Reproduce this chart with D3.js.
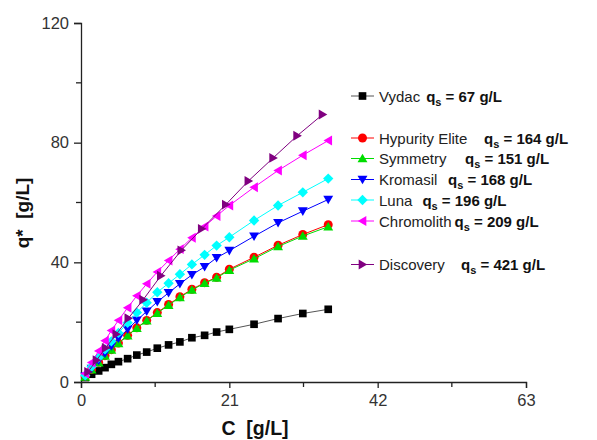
<!DOCTYPE html>
<html><head><meta charset="utf-8">
<script src="https://cdn.jsdelivr.net/npm/d3@7/dist/d3.min.js"></script>
<style>
body{margin:0;background:#fff;}
svg{display:block;font-family:"Liberation Sans",Arial,Helvetica,sans-serif;}
</style></head>
<body><svg id="c" width="597" height="440"></svg>
<script>
// ---- data ----
const xTicks = [0, 21, 42, 63];
const xMinor = [10.5, 31.5, 52.5];
const yTicks = [0, 40, 80, 120];
const yMinor = [20, 60, 100];

const cGrid = [0.6, 1.5, 2.5, 3.4, 4.3, 5.3, 6.6, 7.9, 9.3, 10.8, 12.4, 14.0, 15.7, 17.5, 19.2, 21.0, 24.5, 27.9, 31.4, 35.0];
const vydac      = [1.5, 2.6, 3.7, 4.8, 5.9, 6.8, 7.8, 9.0, 10.0, 11.3, 12.4, 13.4, 14.8, 15.6, 16.7, 17.6, 19.3, 21.2, 22.9, 24.3];
const hypurity   = [1.8, 4.2, 6.6, 8.8, 10.8, 13.0, 15.6, 18.1, 20.6, 23.2, 25.9, 28.5, 31.0, 33.2, 35.0, 37.7, 41.7, 45.7, 49.3, 52.6];
const symmetry   = [1.7, 4.1, 6.5, 8.7, 10.7, 12.9, 15.5, 18.0, 20.5, 23.0, 25.7, 28.3, 30.8, 33.0, 34.8, 37.4, 41.2, 45.3, 48.8, 51.9];
const kromasil   = [1.9, 4.5, 7.2, 9.6, 12.0, 14.6, 17.6, 20.6, 23.6, 26.8, 29.8, 32.8, 35.8, 38.5, 41.5, 43.9, 48.7, 53.2, 57.1, 61.0];
const luna       = [2.2, 5.1, 8.2, 10.9, 13.6, 16.4, 19.8, 23.2, 26.5, 30.0, 33.0, 36.0, 39.3, 42.5, 45.6, 48.4, 54.0, 59.0, 63.4, 68.0];
const chromolith = [2.8, 6.5, 10.4, 13.8, 17.2, 20.6, 24.8, 28.8, 32.8, 36.8, 40.6, 44.4, 48.2, 52.0, 55.5, 59.0, 65.1, 70.7, 75.8, 80.7];
const discC      = [1.0, 2.2, 3.5, 5.0, 6.7, 8.8, 11.3, 14.2, 17.1, 20.5, 23.7, 27.2, 30.6, 34.2];
const discovery  = [3.4, 7.3, 11.4, 16.0, 21.3, 27.5, 35.5, 44.0, 51.2, 59.3, 67.2, 74.9, 82.3, 89.4];

const names  = ["Vydac", "Hypurity Elite", "Symmetry", "Kromasil", "Luna", "Chromolith", "Discovery"];
const qsVals = ["67", "164", "151", "168", "196", "209", "421"];

// ---- styles (not data) ----
const series = [
  {name: names[0], qs: qsVals[0], x: cGrid, y: vydac, color: "#000000", line: "#555555", sym: "square", ly: 96, qx: 426, gap: 6},
  {name: names[1], qs: qsVals[1], x: cGrid, y: hypurity, color: "#ff0000", line: "#ff0000", sym: "circle", ly: 138, qx: 484, gap: 6},
  {name: names[2], qs: qsVals[2], x: cGrid, y: symmetry, color: "#00dd00", line: "#00dd00", sym: "up", ly: 158.5, qx: 465, gap: 10},
  {name: names[3], qs: qsVals[3], x: cGrid, y: kromasil, color: "#0000ff", line: "#0000ff", sym: "down", ly: 179.5, qx: 448, gap: 10},
  {name: names[4], qs: qsVals[4], x: cGrid, y: luna, color: "#00ffff", line: "#00ffff", sym: "diamond", ly: 200, qx: 421, gap: 10},
  {name: names[5], qs: qsVals[5], x: cGrid, y: chromolith, color: "#ff00ff", line: "#ff00ff", sym: "left", ly: 221, qx: 450, gap: 3},
  {name: names[6], qs: qsVals[6], x: discC, y: discovery, color: "#800080", line: "#800080", sym: "right", ly: 264.5, qx: 461, gap: 6}
];

const svg = d3.select("#c");
const x = d3.scaleLinear().domain([0, 63]).range([81, 526]);
const y = d3.scaleLinear().domain([0, 120]).range([382, 23]);

function marker(sym, s) {
  const h = s / 2;
  switch (sym) {
    case "square": return `M${-h*0.85},${-h*0.85}H${h*0.85}V${h*0.85}H${-h*0.85}Z`;
    case "circle": return d3.symbol(d3.symbolCircle, s*s*0.78)();
    case "up": return `M0,${-h*1.05}L${h*1.1},${h*0.85}L${-h*1.1},${h*0.85}Z`;
    case "down": return `M0,${h*1.05}L${h*1.1},${-h*0.85}L${-h*1.1},${-h*0.85}Z`;
    case "left": return `M${-h*1.05},0L${h*0.85},${-h*1.1}L${h*0.85},${h*1.1}Z`;
    case "right": return `M${h*1.05},0L${-h*0.85},${-h*1.1}L${-h*0.85},${h*1.1}Z`;
    case "diamond": return `M0,${-h*1.15}L${h*1.15},0L0,${h*1.15}L${-h*1.15},0Z`;
  }
}

// axes
const xAxis = d3.axisBottom(x).tickValues(xTicks).tickSize(6).tickPadding(6).tickFormat(d3.format("d"));
const gx = svg.append("g").attr("transform", "translate(0,382)").call(xAxis);
svg.append("g").attr("transform", "translate(0,382)")
  .selectAll("line").data(xMinor).join("line")
  .attr("x1", d => x(d)).attr("x2", d => x(d)).attr("y1", 0).attr("y2", 5)
  .attr("stroke", "#222").attr("stroke-width", 1.3);
const yAxis = d3.axisLeft(y).tickValues(yTicks).tickSize(7).tickPadding(5).tickFormat(d3.format("d"));
const gy = svg.append("g").attr("transform", "translate(81,0)").call(yAxis);
svg.append("g").attr("transform", "translate(81,0)")
  .selectAll("line").data(yMinor).join("line")
  .attr("y1", d => y(d)).attr("y2", d => y(d)).attr("x1", 0).attr("x2", -5)
  .attr("stroke", "#222").attr("stroke-width", 1.3);
[gx, gy].forEach(g => {
  g.select(".domain").attr("stroke", "#222").attr("stroke-width", 1.3);
  g.selectAll(".tick line").attr("stroke", "#222").attr("stroke-width", 1.3);
  g.selectAll(".tick text").attr("font-size", 16.5).attr("fill", "#333")
    .attr("font-family", "'Liberation Sans',Arial,sans-serif");
});

// axis titles
svg.append("text").attr("x", 255).attr("y", 435).attr("text-anchor", "middle")
  .attr("font-size", 19.5).attr("font-weight", "bold").attr("fill", "#111")
  .attr("xml:space", "preserve").text("C  [g/L]");
svg.append("text").attr("transform", "translate(29,213) rotate(-90)").attr("text-anchor", "middle")
  .attr("font-size", 19).attr("font-weight", "bold").attr("fill", "#111")
  .attr("xml:space", "preserve").text("q*  [g/L]");

// series
const line = d3.line().x(d => x(d[0])).y(d => y(d[1]));
series.forEach(s => {
  const pts = s.x.map((c, i) => [c, s.y[i]]);
  const g = svg.append("g");
  g.append("path").attr("d", line(pts)).attr("fill", "none").attr("stroke", s.line).attr("stroke-width", 1);
  g.selectAll("path.m").data(pts).join("path").attr("class", "m")
    .attr("transform", d => `translate(${x(d[0])},${y(d[1])})`)
    .attr("d", marker(s.sym, 9)).attr("fill", s.color);
});

// legend
series.forEach(s => {
  const g = svg.append("g").attr("transform", `translate(0,${s.ly})`);
  g.append("line").attr("x1", 351).attr("x2", 374).attr("y1", 0).attr("y2", 0)
    .attr("stroke", s.line).attr("stroke-width", 1);
  g.append("path").attr("transform", "translate(362.5,0)").attr("d", marker(s.sym, 9)).attr("fill", s.color);
  const nm = g.append("text").attr("x", 379).attr("y", 5.5).attr("font-size", 15).attr("fill", "#222").text(s.name);
  const end = 379 + nm.node().getComputedTextLength();
  const qx = Math.max(s.qx, end + s.gap);
  const t = g.append("text").attr("x", qx).attr("y", 5.5).attr("font-size", 15).attr("font-weight", "bold").attr("fill", "#111");
  t.append("tspan").text("q");
  t.append("tspan").attr("font-size", 11).attr("dy", 4).text("s");
  t.append("tspan").attr("dy", -4).text(" = " + s.qs + " g/L");
});
</script></body></html>
